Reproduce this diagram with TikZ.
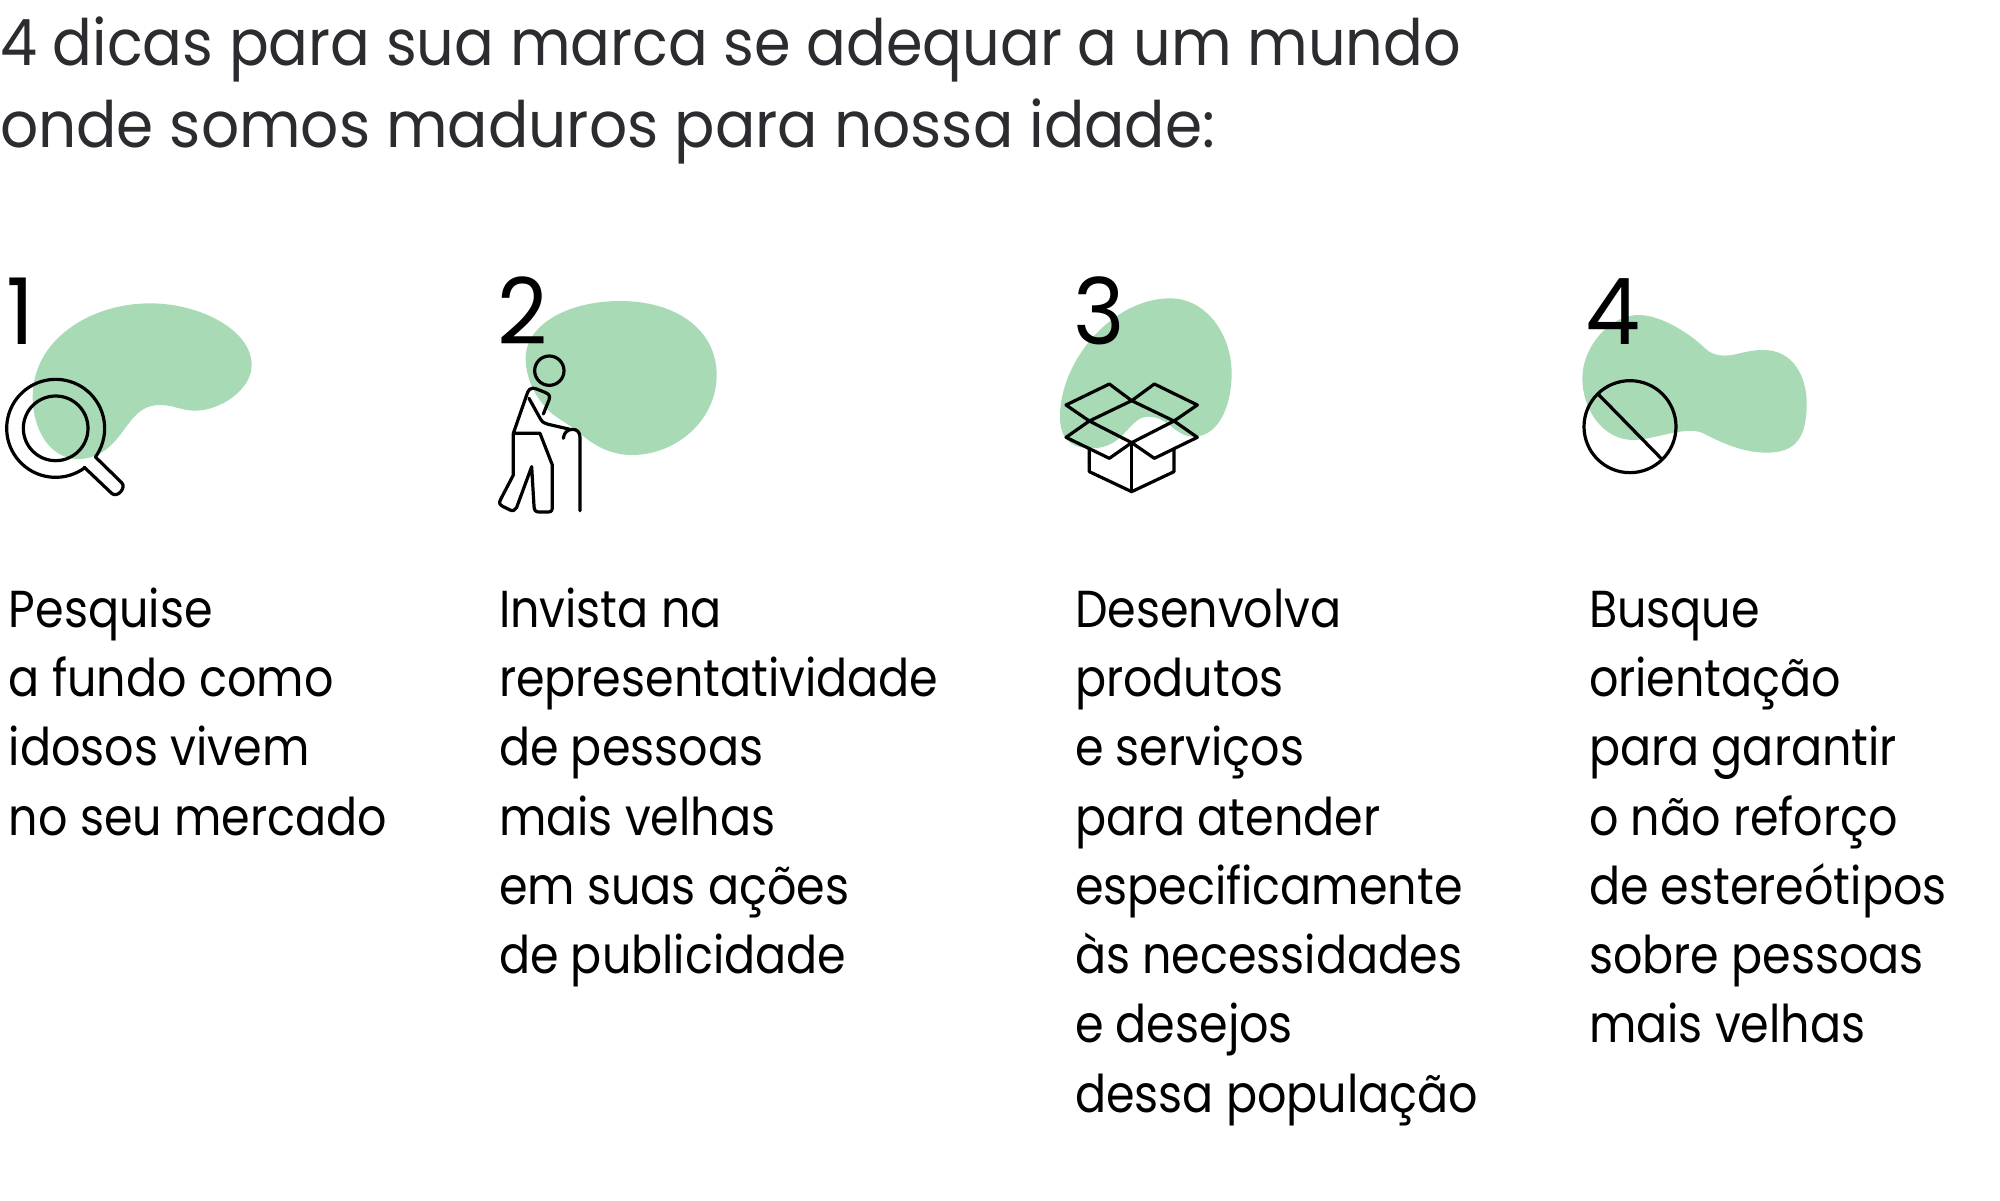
\documentclass[tikz,border=0pt]{standalone}
\usepackage{fontspec}
\setmainfont{Poppins}
\newfontfamily\headfont[FakeStretch=0.92]{Poppins}
\newfontfamily\headfontb[FakeStretch=0.934]{Poppins}
\newfontfamily\bodyfont[FakeStretch=0.885]{Poppins}
\newfontfamily\digitfont[FakeStretch=0.95]{Poppins}
\definecolor{blobgreen}{HTML}{A8DAB5}
\definecolor{titlegray}{HTML}{2B2C30}
\tikzset{
  blob/.style={fill=blobgreen,draw=none},
  icon/.style={draw=black,line width=3.2pt,line join=round,line cap=round,fill=none},
  headline/.style={anchor=base west,inner sep=0pt,outer sep=0pt,text=titlegray,font=\headfont\fontsize{64}{64}\selectfont},
  headlineb/.style={headline,font=\headfontb\fontsize{64}{64}\selectfont},
  digit/.style={anchor=base west,inner sep=0pt,outer sep=0pt,text=black,font=\digitfont\fontsize{92}{92}\selectfont},
  body/.style={anchor=base west,inner sep=0pt,outer sep=0pt,text=black,font=\bodyfont\fontsize{52}{69}\selectfont},
  zoomed/.style={x=0.33333pt,y=-0.33333pt},
}
\begin{document}
\begin{tikzpicture}[x=1pt,y=-1pt]
\useasboundingbox (0,0) rectangle (2000,1200);
\node[headline] (t1) at (0,65) {4 dicas para sua marca se adequar a um mundo};
\node[headlineb] (t2) at (0,147.3) {onde somos maduros para nossa idade:};
% blob 1
\begin{scope}[shift={(0,260)},zoomed]
\fill[blob] (450,130) .. controls (600,130) and (755,210) .. (755,315) .. controls (755,390) and (660,452) .. (585,452) .. controls (545,452) and (520,435) .. (480,435) .. controls (420,435) and (395,480) .. (375,505) .. controls (340,555) and (300,597) .. (235,597) .. controls (150,597) and (98,510) .. (98,410) .. controls (98,240) and (270,130) .. (450,130) -- cycle;
\end{scope}
% blob 2
\begin{scope}[shift={(480,260)},zoomed]
\fill[blob] (420,123) .. controls (590,123) and (710,210) .. (710,345) .. controls (710,480) and (590,585) .. (455,585) .. controls (390,585) and (340,555) .. (300,520) .. controls (270,495) and (240,480) .. (215,460) .. controls (170,420) and (137,360) .. (137,295) .. controls (137,190) and (270,123) .. (420,123) -- cycle;
\end{scope}
% blob 3
\begin{scope}[shift={(1050,260)},zoomed]
\fill[blob] (360,115) .. controls (470,115) and (545,225) .. (545,340) .. controls (545,430) and (510,530) .. (430,530) .. controls (375,530) and (355,470) .. (295,470) .. controls (235,470) and (225,565) .. (125,565) .. controls (55,565) and (30,530) .. (30,470) .. controls (30,300) and (190,115) .. (360,115) -- cycle;
\end{scope}
% blob 4
\begin{scope}[shift={(1570,260)},zoomed]
\fill[blob] (205,165) .. controls (280,165) and (370,230) .. (405,265) .. controls (430,290) and (470,290) .. (500,282) .. controls (530,275) and (550,270) .. (580,270) .. controls (670,270) and (710,350) .. (710,430) .. controls (710,530) and (680,578) .. (590,578) .. controls (510,578) and (440,540) .. (400,520) .. controls (350,495) and (250,540) .. (190,540) .. controls (100,540) and (37,450) .. (37,355) .. controls (37,260) and (120,165) .. (205,165) -- cycle;
\end{scope}
% digits
\node[digit] (d1) at (6,344) {1};
\node[digit] (d2) at (497,344) {2};
\node[digit] (d3) at (1073,344) {3};
\node[digit] (d4) at (1585,344) {4};
% magnifier
\begin{scope}[shift={(0,260)},zoomed]
\draw[icon] (167,505) circle[radius=97];
\draw[icon] plot[domain=53.7:395.8,samples=70] ({167+147*cos(\x)},{505+147*sin(\x)}) -- (365,668) .. controls (380,682) and (352,716) .. (335,700) -- (253,622);
\end{scope}
% person
\begin{scope}[shift={(480,260)},zoomed]
\draw[icon] (208,332) circle[radius=44];
\draw[icon] (190,462) -- (207,420) .. controls (212,405) and (205,402) .. (195,397) -- (170,387) .. controls (150,380) and (145,390) .. (140,405) -- (100,520) -- (100,645) -- (62,718) .. controls (55,730) and (60,735) .. (70,740) -- (90,750) .. controls (100,755) and (105,750) .. (110,742) -- (155,620) -- (162,738) .. controls (162,752) and (168,756) .. (178,756) -- (205,756) .. controls (215,756) and (217,750) .. (217,740) -- (217,615) -- (180,520) -- (100,520);
\draw[icon] (147,415) -- (182,478) .. controls (188,488) and (195,490) .. (205,493) -- (270,508);
\draw[icon] (250,535) .. controls (252,518) and (262,508) .. (278,508) .. controls (292,508) and (300,518) .. (300,532) -- (300,752);
\end{scope}
% box
\begin{scope}[shift={(1050,260)},zoomed]
\draw[icon] (245,422) -- (178,372) -- (48,435) -- (118,483) -- (245,422) -- (313,372) -- (442,435) -- (372,483) -- (245,422);
\draw[icon] (118,483) -- (48,532) -- (178,595) -- (245,548) -- (118,483);
\draw[icon] (372,483) -- (442,532) -- (313,595) -- (245,548) -- (372,483);
\draw[icon] (118,565) -- (118,635) -- (245,695) -- (372,635) -- (372,565);
\draw[icon] (245,548) -- (245,695);
\end{scope}
% no sign
\begin{scope}[shift={(1570,260)},zoomed]
\draw[icon] (180,500) circle[radius=138];
\draw[icon] (87,405) -- (275,597);
\end{scope}
% body
\foreach \t [count=\i] in {Pesquise,a fundo como,idosos vivem,no seu mercado}
  \node[body] (a\i) at (9,{627.3+69.25*(\i-1)}) {\t};
\foreach \t [count=\i] in {Invista na,representatividade,de pessoas,mais velhas,em suas ações,de publicidade}
  \node[body] (b\i) at (499,{627.3+69.25*(\i-1)}) {\t};
\foreach \t [count=\i] in {Desenvolva,produtos,e serviços,para atender,especificamente,às necessidades,e desejos,dessa população}
  \node[body] (c\i) at (1075,{627.3+69.25*(\i-1)}) {\t};
\foreach \t [count=\i] in {Busque,orientação,para garantir,o não reforço,de estereótipos,sobre pessoas,mais velhas}
  \node[body] (e\i) at (1589,{627.3+69.25*(\i-1)}) {\t};
\end{tikzpicture}
\end{document}
